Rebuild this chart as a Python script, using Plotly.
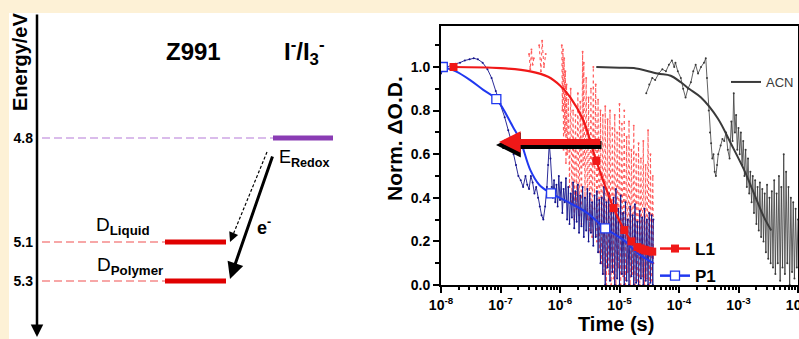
import plotly.graph_objects as go

# ---------------- DATA ----------------
# Left panel: energy levels (eV) of the schematic
energy_labels = ["4.8", "5.1", "5.3"]
energy_values = [4.8, 5.1, 5.3]

# Right panel: (log10 t [s], normalised dOD); None = gap in the record
p1_raw = [(-8.00, 0.97), (-7.95, 0.99), (-7.90, 1.00), (-7.82, 1.01), (-7.75, 1.015), (-7.68, 1.02),
          (-7.60, 1.03), (-7.52, 1.035), (-7.45, 1.04), (-7.38, 1.035), (-7.30, 1.02), (-7.22, 0.99),
          (-7.15, 0.95), (-7.08, 0.89), (-7.00, 0.83), (-6.93, 0.77), (-6.87, 0.71), (-6.82, 0.66),
          (-6.78, 0.60), (-6.74, 0.55), (-6.70, 0.50), (-6.66, 0.48), (-6.62, 0.45), (-6.58, 0.50),
          (-6.55, 0.46), (-6.52, 0.44), (-6.49, 0.50), (-6.46, 0.47), (-6.43, 0.42), (-6.40, 0.45),
          (-6.37, 0.40), (-6.34, 0.36), (-6.31, 0.32), (-6.28, 0.30), (-6.25, 0.36), (-6.22, 0.45),
          (-6.20, 0.55), (-6.18, 0.65), (-6.16, 0.58), (-6.14, 0.45), (-6.12, 0.40), (-6.10, 0.48),
          (-6.08, 0.38), (-6.06, 0.46), (-6.04, 0.36), (-6.02, 0.50), (-6.00, 0.39), (-5.98, 0.47),
          (-5.96, 0.33), (-5.94, 0.44), (-5.92, 0.38), (-5.90, 0.49), (-5.88, 0.30), (-5.86, 0.45),
          (-5.84, 0.28), (-5.82, 0.42), (-5.80, 0.31), (-5.78, 0.47), (-5.76, 0.26), (-5.74, 0.43),
          (-5.72, 0.29), (-5.70, 0.46), (-5.68, 0.24), (-5.66, 0.41), (-5.64, 0.27), (-5.62, 0.45),
          (-5.60, 0.22), (-5.58, 0.40), (-5.56, 0.25), (-5.54, 0.44), (-5.52, 0.20), (-5.50, 0.42),
          (-5.48, 0.24), (-5.46, 0.38), (-5.44, 0.18), (-5.42, 0.41), (-5.40, 0.22), (-5.38, 0.43),
          (-5.36, 0.15), (-5.34, 0.39), (-5.32, 0.10), (-5.30, 0.40), (-5.28, 0.05), (-5.26, 0.45),
          (-5.24, 0.00), (-5.22, 0.38), (-5.20, 0.08), (-5.18, 0.42), (-5.16, 0.02), (-5.14, 0.36),
          (-5.12, 0.06), (-5.10, 0.40), (-5.08, 0.00), (-5.06, 0.44), (-5.04, 0.03), (-5.02, 0.35),
          (-5.00, 0.00), (-4.98, 0.41), (-4.96, 0.05), (-4.94, 0.33), (-4.92, 0.00), (-4.90, 0.38),
          (-4.88, 0.02), (-4.86, 0.30), (-4.84, 0.00), (-4.82, 0.36), (-4.80, 0.04), (-4.78, 0.32),
          (-4.76, 0.00), (-4.74, 0.37), (-4.72, 0.01), (-4.70, 0.29), (-4.68, 0.00), (-4.66, 0.34),
          (-4.64, 0.03), (-4.62, 0.31), (-4.60, 0.00), (-4.58, 0.35), (-4.56, 0.02), (-4.54, 0.30),
          (-4.52, 0.00), (-4.50, 0.33), (-4.48, 0.01), (-4.46, 0.32), (-4.44, 0.00), (-4.43, 0.30)]

l1_raw = [(-6.52, 1.06), (-6.50, 0.99), (-6.48, 1.08), (-6.46, 1.01), (-6.44, 1.04), (-6.42, None),
          (-6.35, 1.10), (-6.32, 0.98), (-6.30, 1.12), (-6.27, 1.00), (-6.24, 1.06), (-6.10, None),
          (-5.97, 1.10), (-5.96, 0.80), (-5.95, 1.08),
          (-5.94, 0.62), (-5.93, 1.04), (-5.92, 0.70), (-5.91, 0.98), (-5.90, 0.56), (-5.89, 0.92),
          (-5.88, 0.60), (-5.86, 0.85), (-5.84, 0.45), (-5.82, 0.90), (-5.80, 0.38), (-5.78, 0.80),
          (-5.76, 0.30), (-5.74, 0.78), (-5.72, 0.35), (-5.70, 0.88), (-5.68, 0.32), (-5.66, 0.84),
          (-5.64, 0.28), (-5.62, 1.07), (-5.61, 0.55), (-5.60, 1.02), (-5.58, 0.40), (-5.56, 0.95),
          (-5.54, 0.30), (-5.52, 0.86), (-5.50, 0.25), (-5.48, 0.90), (-5.46, 0.22), (-5.44, 1.00),
          (-5.42, 0.35), (-5.40, 0.92), (-5.38, 0.20), (-5.36, 0.85), (-5.34, 0.15), (-5.32, 0.80),
          (-5.30, 0.10), (-5.28, 0.78), (-5.26, 0.05), (-5.24, 0.82), (-5.22, 0.00), (-5.20, 0.76),
          (-5.18, 0.05), (-5.16, 0.80), (-5.14, 0.00), (-5.12, 0.72), (-5.10, 0.03), (-5.08, 0.78),
          (-5.06, 0.00), (-5.04, 0.70), (-5.02, 0.08), (-5.00, 0.83), (-4.98, 0.00), (-4.96, 0.74),
          (-4.94, 0.04), (-4.92, 0.80), (-4.90, 0.00), (-4.88, 0.68), (-4.86, 0.06), (-4.84, 0.75),
          (-4.82, 0.00), (-4.80, 0.62), (-4.78, 0.05), (-4.76, 0.73), (-4.74, 0.00), (-4.72, 0.60),
          (-4.70, 0.02), (-4.68, 0.65), (-4.66, 0.00), (-4.64, 0.58), (-4.62, 0.04), (-4.60, 0.66),
          (-4.58, 0.00), (-4.56, 0.55), (-4.54, 0.03), (-4.52, 0.71), (-4.50, 0.00), (-4.48, 0.60),
          (-4.46, 0.02), (-4.44, 0.50), (-4.43, 0.10)]

acn_raw = [(-4.55, 0.88), (-4.50, 0.92), (-4.45, 0.95), (-4.40, 0.94), (-4.34, 0.97), (-4.28, 0.99),
           (-4.22, 0.98), (-4.17, 1.01), (-4.12, 1.03), (-4.08, 1.00), (-4.06, 1.02), (-4.02, 0.98),
           (-3.97, 0.95), (-3.93, 0.90), (-3.89, 0.86), (-3.85, 0.90), (-3.80, 0.93), (-3.76, 0.98),
           (-3.72, 1.01), (-3.68, 0.97), (-3.63, 1.00), (-3.58, 1.02), (-3.55, 1.04), (-3.53, 0.95),
           (-3.50, 0.80), (-3.48, 0.70), (-3.46, 0.65), (-3.44, 0.58), (-3.42, 0.60), (-3.40, 0.52),
           (-3.38, 0.50), (-3.36, 0.55), (-3.34, 0.60), (-3.30, 0.64), (-3.27, 0.67), (-3.24, 0.66),
           (-3.21, 0.70), (-3.18, 0.62), (-3.15, 0.58), (-3.12, 0.75), (-3.10, 0.66), (-3.08, 0.88),
           (-3.06, 0.70), (-3.04, 0.78), (-3.02, 0.62), (-3.00, 0.72), (-2.98, 0.60), (-2.96, 0.70),
           (-2.94, 0.55), (-2.92, 0.66), (-2.90, 0.50), (-2.88, 0.62), (-2.86, 0.45), (-2.84, 0.58),
           (-2.82, 0.42), (-2.80, 0.52), (-2.78, 0.38), (-2.76, 0.50), (-2.74, 0.33), (-2.72, 0.48),
           (-2.70, 0.28), (-2.68, 0.45), (-2.66, 0.25), (-2.64, 0.47), (-2.62, 0.22), (-2.60, 0.44),
           (-2.58, 0.20), (-2.56, 0.42), (-2.54, 0.15), (-2.52, 0.46), (-2.50, 0.12), (-2.48, 0.40),
           (-2.46, 0.10), (-2.44, 0.43), (-2.42, 0.08), (-2.40, 0.48), (-2.38, 0.05), (-2.36, 0.42),
           (-2.34, 0.10), (-2.32, 0.50), (-2.30, 0.02), (-2.28, 0.45), (-2.26, 0.08), (-2.24, 0.60),
           (-2.22, 0.05), (-2.20, 0.52), (-2.18, 0.10), (-2.16, 0.45), (-2.14, 0.00), (-2.12, 0.40),
           (-2.10, 0.06), (-2.08, 0.38), (-2.06, 0.03), (-2.04, 0.35), (-2.02, 0.08), (-2.00, 0.30)]

l1_fit = [(-7.80, 1.000), (-7.00, 0.995), (-6.50, 0.980), (-6.20, 0.955), (-6.00, 0.915),
          (-5.83, 0.862), (-5.61, 0.757), (-5.39, 0.569), (-5.10, 0.353), (-4.92, 0.252),
          (-4.80, 0.200), (-4.70, 0.174), (-4.55, 0.158), (-4.43, 0.151)]
l1_pts = [(-7.79, 1.000), (-5.39, 0.569), (-5.10, 0.353), (-4.92, 0.252), (-4.80, 0.200),
          (-4.70, 0.174), (-4.65, 0.168), (-4.61, 0.163), (-4.57, 0.160), (-4.53, 0.157),
          (-4.49, 0.155), (-4.45, 0.153)]

p1_fit = [(-7.97, 1.000), (-7.75, 0.980), (-7.51, 0.940), (-7.29, 0.895), (-7.07, 0.853),
          (-6.79, 0.725), (-6.67, 0.665), (-6.50, 0.528), (-6.35, 0.460), (-6.15, 0.420),
          (-5.83, 0.376), (-5.54, 0.330), (-5.24, 0.260), (-4.93, 0.206), (-4.70, 0.147),
          (-4.43, 0.100)]
p1_pts = [(-7.97, 1.000), (-7.07, 0.853), (-6.15, 0.420), (-5.24, 0.260)]

acn_fit = [(-5.39, 1.000), (-5.00, 0.997), (-4.76, 0.995), (-4.36, 0.970), (-4.14, 0.960),
           (-3.97, 0.930), (-3.83, 0.900), (-3.63, 0.860), (-3.35, 0.765), (-3.13, 0.650),
           (-2.91, 0.530), (-2.74, 0.420), (-2.57, 0.310), (-2.45, 0.250)]

x_tick_exponents = [-8, -7, -6, -5, -4, -3, -2]
y_tick_values = [0.0, 0.2, 0.4, 0.6, 0.8, 1.0]
y_tick_labels = ["0.0", "0.2", "0.4", "0.6", "0.8", "1.0"]

# ---------------- LAYOUT CONSTANTS ----------------
W, H = 799, 339
FONT = "Liberation Sans"
CREAM = "#FDF1D6"
RED = "#F01818"
BLUE = "#2038F0"
NAVY = "#14148C"
LRED = "#FF5C5C"
GREY = "#3A3A3A"
PURPLE = "#8A3CB4"
LPURPLE = "#B57BD8"

# schematic positions (pixel rows) of the energy levels in the left diagram
level_row = {4.8: 138, 5.1: 242, 5.3: 281}


def split(pairs):
    xs = [10 ** a for a, _ in pairs]
    ys = [b for _, b in pairs]
    return xs, ys


fig = go.Figure()

# ---- right panel traces ----
x, y = split(l1_raw)
fig.add_trace(go.Scatter(x=x, y=y, mode="lines+markers", line=dict(color=LRED, width=1.1, dash="dot"),
                         marker=dict(color=LRED, size=2), showlegend=False, connectgaps=False))
x, y = split(p1_raw)
fig.add_trace(go.Scatter(x=x, y=y, mode="lines+markers", line=dict(color=NAVY, width=0.9),
                         marker=dict(color=NAVY, size=2), showlegend=False))
x, y = split(acn_raw)
fig.add_trace(go.Scatter(x=x, y=y, mode="lines+markers", line=dict(color=GREY, width=0.8),
                         marker=dict(color=GREY, size=2), showlegend=False))
x, y = split(acn_fit)
fig.add_trace(go.Scatter(x=x, y=y, mode="lines", line=dict(color=GREY, width=2, shape="spline"),
                         showlegend=False))
x, y = split(p1_fit)
fig.add_trace(go.Scatter(x=x, y=y, mode="lines", line=dict(color=BLUE, width=2, shape="spline"),
                         showlegend=False))
x, y = split(p1_pts)
fig.add_trace(go.Scatter(x=x, y=y, mode="markers",
                         marker=dict(symbol="square", size=9, color="white", line=dict(color=BLUE, width=1.3)),
                         showlegend=False))
x, y = split(l1_fit)
fig.add_trace(go.Scatter(x=x, y=y, mode="lines", line=dict(color=RED, width=2.2, shape="spline"),
                         showlegend=False))
x, y = split(l1_pts)
fig.add_trace(go.Scatter(x=x, y=y, mode="markers",
                         marker=dict(symbol="square", size=8, color=RED), showlegend=False))

# legend entries
fig.add_trace(go.Scatter(x=[None], y=[None], mode="lines+markers", name="<b>L1</b>",
                         line=dict(color=RED, width=2.5), marker=dict(symbol="square", size=8, color=RED),
                         legend="legend", legendgroup="a"))
fig.add_trace(go.Scatter(x=[None], y=[None], mode="lines+markers", name="<b>P1</b>",
                         line=dict(color=BLUE, width=2.5),
                         marker=dict(symbol="square", size=9, color="white", line=dict(color=BLUE, width=1.3)),
                         legend="legend", legendgroup="b"))
fig.add_trace(go.Scatter(x=[None], y=[None], mode="lines", name="ACN",
                         line=dict(color=GREY, width=2), legend="legend2"))

# ---- left panel: energy levels on a pixel-schematic overlay axis ----
x_dash0, x_z0, x_z1, x_r0, x_r1 = 42, 165, 226, 273, 333
for e in energy_values:
    r = level_row[e]
    if e == 4.8:
        fig.add_trace(go.Scatter(x=[x_dash0, x_r0], y=[r, r], xaxis="x2", yaxis="y2", mode="lines",
                                 line=dict(color=LPURPLE, width=1.2, dash="8px,4px"), showlegend=False))
        fig.add_trace(go.Scatter(x=[x_r0, x_r1], y=[r, r], xaxis="x2", yaxis="y2", mode="lines",
                                 line=dict(color=PURPLE, width=5), showlegend=False))
    else:
        fig.add_trace(go.Scatter(x=[x_dash0, x_z0], y=[r, r], xaxis="x2", yaxis="y2", mode="lines",
                                 line=dict(color="#F05050", width=1.2, dash="8px,4px"), showlegend=False))
        fig.add_trace(go.Scatter(x=[x_z0, x_z1], y=[r, r], xaxis="x2", yaxis="y2", mode="lines",
                                 line=dict(color="#E00000", width=5), showlegend=False))

minor_x = [k * 10.0 ** e for e in range(-8, -2) for k in range(2, 10)]

fig.update_layout(
    width=W, height=H, margin=dict(l=0, r=0, t=0, b=0, pad=0, autoexpand=False),
    paper_bgcolor=CREAM, plot_bgcolor="rgba(0,0,0,0)",
    font=dict(family=FONT, color="black"),
    xaxis=dict(type="log", range=[-8, -2], domain=[441 / W, 798 / W], anchor="y",
               showline=True, linewidth=2, linecolor="black", mirror=True,
               ticks="outside", ticklen=6, tickwidth=2, tickcolor="black",
               tickmode="array", tickvals=[10.0 ** e for e in x_tick_exponents],
               ticktext=["<b>10<sup>%d</sup></b>" % e for e in x_tick_exponents],
               tickfont=dict(size=14, family=FONT), ticklabeloverflow="allow",
               minor=dict(ticks="outside", ticklen=3, tickwidth=1.5, tickcolor="black",
                          tickmode="array", tickvals=minor_x),
               showgrid=False, zeroline=False),
    yaxis=dict(range=[0, 1.188], domain=[(H - 285) / H, (H - 26) / H], anchor="x",
               showline=True, linewidth=2, linecolor="black", mirror=True,
               ticks="outside", ticklen=6, tickwidth=2, tickcolor="black",
               tickmode="array", tickvals=y_tick_values,
               ticktext=["<b>%s</b>" % t for t in y_tick_labels],
               tickfont=dict(size=14, family=FONT),
               minor=dict(ticks="outside", ticklen=4, tickwidth=1.5, tickcolor="black",
                          tickmode="array", tickvals=[0.1, 0.3, 0.5, 0.7, 0.9, 1.1]),
               showgrid=False, zeroline=False),
    xaxis2=dict(domain=[0, 1], range=[0, W], anchor="y2", visible=False, fixedrange=True),
    yaxis2=dict(domain=[0, 1], range=[H, 0], anchor="free", position=37 / W,
                showline=False, showgrid=False, zeroline=False, ticks="",
                tickmode="array", tickvals=[level_row[e] for e in energy_values],
                ticktext=["<b>%s</b>" % t for t in energy_labels],
                tickfont=dict(size=14, family=FONT), ticklabelstandoff=4),
    legend=dict(x=655 / W, y=(H - 231) / H, xanchor="left", yanchor="top",
                bgcolor="rgba(0,0,0,0)", font=dict(size=17, family=FONT),
                traceorder="grouped", tracegroupgap=2, itemclick=False),
    legend2=dict(x=1, y=(H - 67) / H, xanchor="right", yanchor="top",
                 bgcolor="rgba(0,0,0,0)", font=dict(size=13, family=FONT, color=GREY)),
    showlegend=True,
)

shapes = [
    dict(type="rect", xref="paper", yref="paper", x0=9 / W, x1=1, y0=0, y1=(H - 13) / H,
         fillcolor="white", line=dict(width=0), layer="below"),
    # dashed part of the dashed arrow
    dict(type="line", xref="x2", yref="y2", x0=267, y0=152, x1=232.5, y1=236,
         line=dict(color="black", width=1.2, dash="3px,2px")),
]
fig.update_layout(shapes=shapes)


def ann(text, x, y, size, bold=True, **kw):
    t = "<b>%s</b>" % text if bold else text
    d = dict(text=t, x=x, y=y, xref="x2", yref="y2", showarrow=False,
             font=dict(size=size, family=FONT, color=kw.pop("color", "black")))
    d.update(kw)
    fig.add_annotation(**d)


def arrow(x, y, ax, ay, width, color="black", head=2, size=1.0):
    fig.add_annotation(x=x, y=y, ax=ax, ay=ay, xref="x2", yref="y2", axref="x2", ayref="y2",
                       text="", showarrow=True, arrowhead=head, arrowsize=size,
                       arrowwidth=width, arrowcolor=color, standoff=0, startstandoff=0)


# left panel texts
ann("Energy/eV", 20, 62, 20, textangle=-90)
ann("Z991", 193, 51, 24)
ann("I<sup>-</sup>/I<sub>3</sub><sup>-</sup>", 304, 52, 24)
ann("E<sub><b>Redox</b></sub>", 304, 158, 18, bold=False)
ann("D<sub><b>Liquid</b></sub>", 123, 226, 19, bold=False)
ann("D<sub><b>Polymer</b></sub>", 130, 266, 19, bold=False)
ann("e<sup>-</sup>", 264, 226, 18)

# arrows of the left panel
arrow(37, 337, 37, 13, 2.5, head=2, size=1.0)
arrow(230, 279, 273, 155, 3, head=2, size=1.1)
arrow(230, 242, 232.5, 236, 1.2, head=2, size=1.6)

# right panel texts
ann("Time (s)", 616, 324, 20)
ann("Norm. ΔO.D.", 394, 139, 21, textangle=-90)

# big red arrow with black edge
arrow(496, 145, 603, 145, 8, color="black", head=2, size=0.62)
arrow(499, 142, 602, 142, 6, color=RED, head=2, size=0.72)

fig.write_html("out.html")
